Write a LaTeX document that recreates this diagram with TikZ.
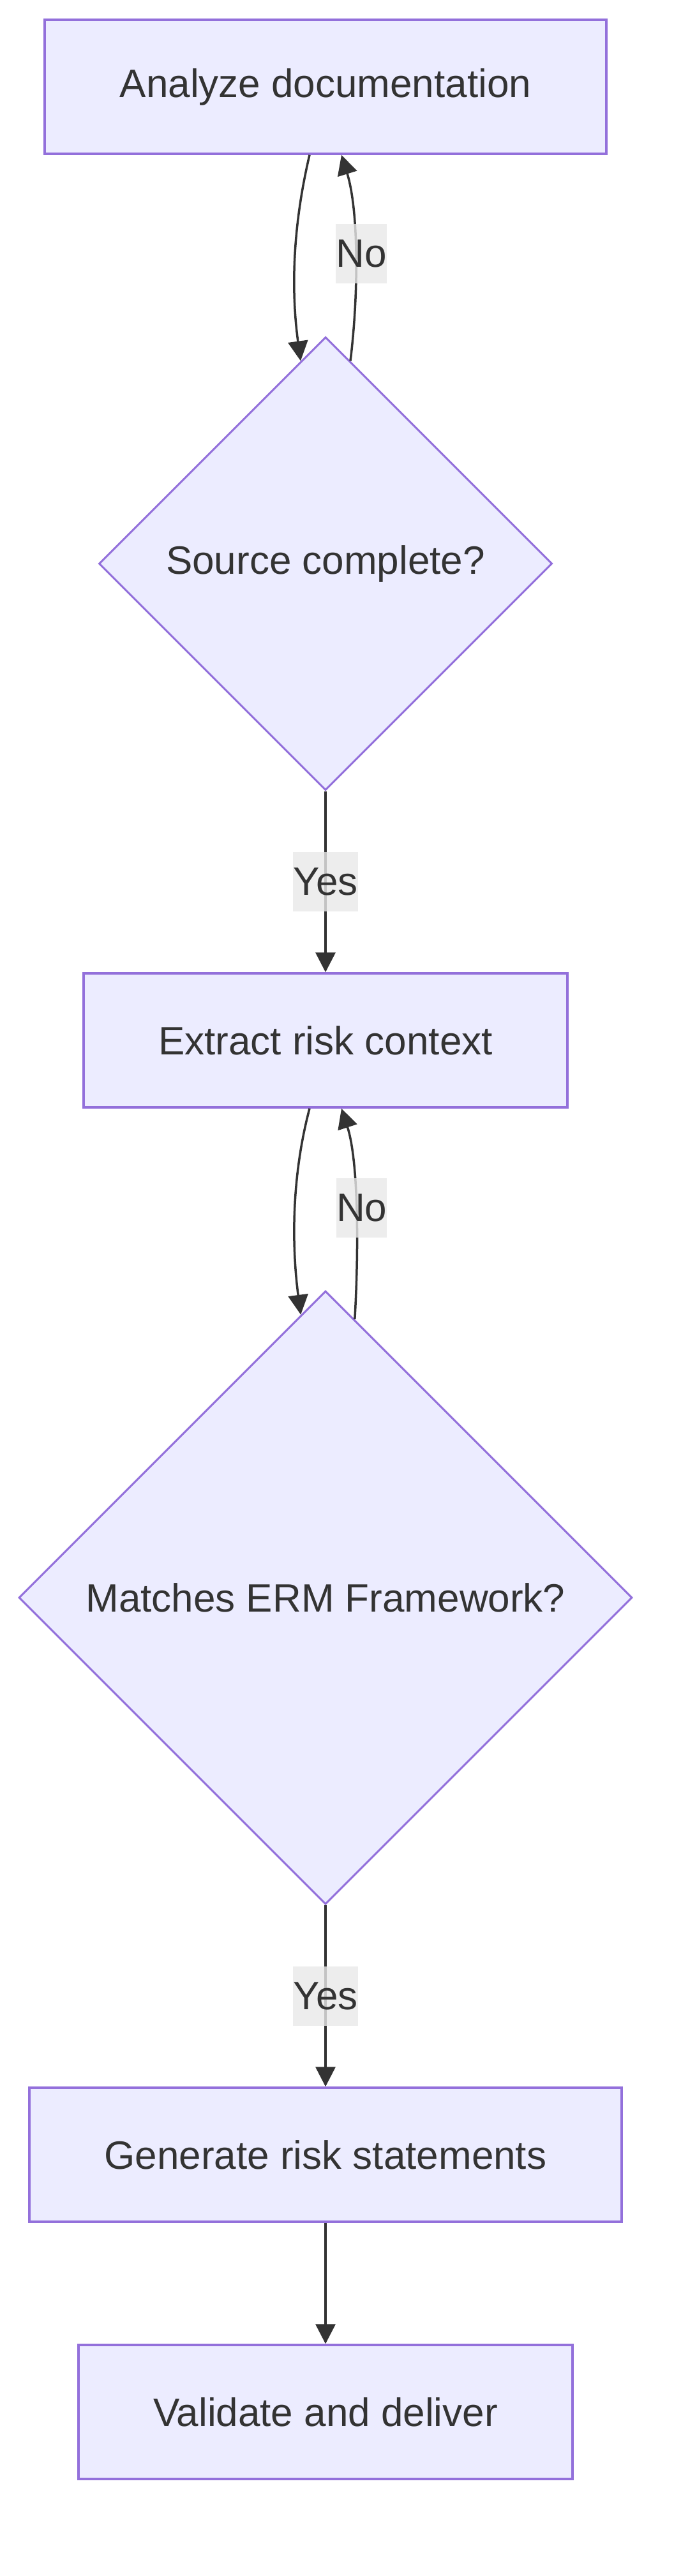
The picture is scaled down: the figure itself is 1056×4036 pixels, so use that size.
\documentclass[tikz,border=0pt]{standalone}
\usepackage{fontspec}
\setmainfont{Liberation Sans}
\usetikzlibrary{shapes.geometric,arrows.meta}
\definecolor{boxfill}{HTML}{ECECFF}
\definecolor{boxline}{HTML}{9370DB}
\definecolor{ink}{HTML}{333333}
\definecolor{lblfill}{HTML}{E8E8E8}
\tikzset{
  stepbox/.style={rectangle,draw=boxline,fill=boxfill,line width=3.5pt,minimum height=210pt,inner sep=0pt,text=ink},
  decision/.style={diamond,aspect=1,draw=boxline,fill=boxfill,line width=3pt,inner sep=0pt,text=ink},
  flow/.style={draw=ink,line width=3.5pt,-{Triangle[length=31pt,width=31pt]}},
  lbl/.style={fill=lblfill,fill opacity=0.8,text opacity=1,text=ink,inner sep=0pt,minimum height=93pt},
}
\begin{document}
\begin{tikzpicture}[x=1pt,y=-1pt,font=\fontsize{62pt}{93pt}\selectfont]
    \useasboundingbox (0,0) rectangle (1056,4036);
    % steps and decisions
    \node[stepbox,minimum width=880pt] (analyze) at (510,136) {Analyze documentation};
    \node[decision,minimum width=710pt,minimum height=710pt] (source) at (510,883) {Source complete?};
    \node[stepbox,minimum width=758pt] (extract) at (510,1630) {Extract risk context};
    \node[decision,minimum width=961pt,minimum height=961pt] (erm) at (510,2503) {Matches ERM Framework?};
    \node[stepbox,minimum width=928pt] (generate) at (510,3376) {Generate risk statements};
    \node[stepbox,minimum width=774pt] (validate) at (510,3779) {Validate and deliver};
    % first loop
    \draw[flow] ([xshift=-25pt]analyze.south) .. controls (455,370) and (458,470) .. (source.97);
    \draw[flow] (source.83) .. controls (562,460) and (562,330) .. ([xshift=25pt]analyze.south)
        node[lbl,pos=.5,xshift=9pt] {No};
    \draw[flow] (source.south) -- (extract.north) node[lbl,midway] {Yes};
    % second loop
    \draw[flow] ([xshift=-25pt]extract.south) .. controls (455,1850) and (458,1960) .. (erm.95.6);
    \draw[flow] (erm.84.7) .. controls (562,1960) and (562,1820) .. ([xshift=25pt]extract.south)
        node[lbl,pos=.5,xshift=9pt] {No};
    \draw[flow] (erm.south) -- (generate.north) node[lbl,midway] {Yes};
    \draw[flow] (generate.south) -- (validate.north);
\end{tikzpicture}
\end{document}
